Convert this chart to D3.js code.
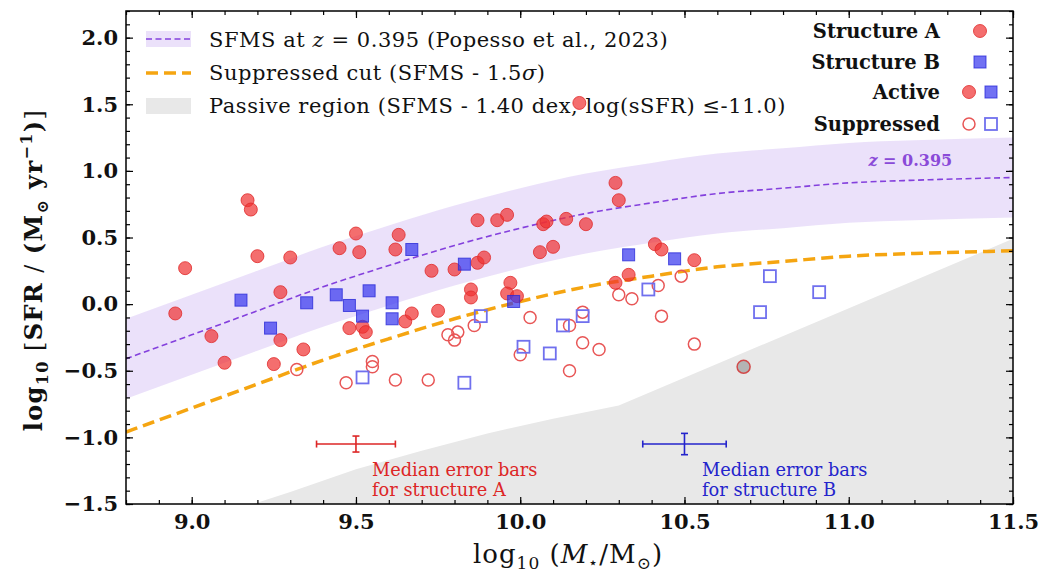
<!DOCTYPE html>
<html>
<head>
<meta charset="utf-8">
<script src="https://cdn.jsdelivr.net/npm/d3@7"></script>
<style>
  body { margin: 0; background: #fff; }
  text { font-family: "DejaVu Serif", "Liberation Serif", serif; }
</style>
</head>
<body>
<svg id="chart" width="1041" height="576"></svg>
<script>
// ---- data ----
// SFMS curve (Popesso et al. 2023, z = 0.395), band edges and suppressed cut
var sfmsMass = [8.8, 9.0, 9.2, 9.4, 9.6, 9.8, 10.0, 10.2, 10.4, 10.6, 10.8, 11.0, 11.2, 11.5];
var sfmsLine = [-0.41, -0.23, -0.05, 0.13, 0.29, 0.44, 0.57, 0.68, 0.76, 0.83, 0.87, 0.91, 0.93, 0.95];
var sfmsUpper = [-0.11, 0.07, 0.25, 0.43, 0.59, 0.74, 0.87, 0.98, 1.06, 1.13, 1.17, 1.21, 1.23, 1.25];
var sfmsLower = [-0.71, -0.53, -0.35, -0.17, -0.01, 0.14, 0.27, 0.38, 0.46, 0.53, 0.57, 0.61, 0.63, 0.65];
var suppressedCut = [-0.96, -0.78, -0.60, -0.42, -0.26, -0.11, 0.02, 0.13, 0.21, 0.28, 0.32, 0.36, 0.38, 0.40];

// passive region upper edge
var passiveMass = [9.15, 9.3, 9.5, 9.7, 9.9, 10.1, 10.3, 11.5];
var passiveTop = [-1.53, -1.41, -1.24, -1.10, -0.97, -0.86, -0.76, 0.49];

// Structure A, active (filled circles)  [log M*, log SFR]
var aActive = [
  [8.95, -0.07], [8.98, 0.27], [9.06, -0.24], [9.10, -0.44], [9.17, 0.78], [9.18, 0.71],
  [9.20, 0.36], [9.25, -0.45], [9.27, 0.09], [9.27, -0.27], [9.30, 0.35], [9.34, -0.34],
  [9.45, 0.42], [9.48, -0.18], [9.50, 0.53], [9.51, 0.39], [9.52, -0.17], [9.53, -0.21],
  [9.62, 0.41], [9.63, 0.52], [9.65, -0.13], [9.67, -0.07], [9.73, 0.25], [9.75, -0.05],
  [9.80, 0.26], [9.85, 0.11], [9.85, 0.05], [9.87, 0.63], [9.87, 0.31], [9.89, 0.35],
  [9.93, 0.63], [9.96, 0.67], [9.97, 0.16], [9.96, 0.08], [9.99, 0.06], [10.06, 0.39],
  [10.07, 0.60], [10.08, 0.62], [10.10, 0.43], [10.14, 0.64], [10.20, 0.60], [10.18, 1.51],
  [10.29, 0.91], [10.30, 0.78], [10.29, 0.16], [10.33, 0.22], [10.41, 0.45], [10.43, 0.41],
  [10.53, 0.33]
];
// Structure A, point lying in the passive region
var aPassive = [[10.68, -0.47]];
// Structure A, suppressed (open circles)
var aSuppressed = [
  [9.32, -0.49], [9.47, -0.59], [9.55, -0.43], [9.55, -0.47], [9.62, -0.57], [9.72, -0.57],
  [9.78, -0.23], [9.80, -0.27], [9.81, -0.21], [9.86, -0.16], [10.03, -0.10], [10.00, -0.38],
  [10.15, -0.50], [10.15, -0.16], [10.19, -0.06], [10.19, -0.29], [10.24, -0.34], [10.30, 0.07],
  [10.34, 0.04], [10.42, 0.14], [10.43, -0.09], [10.49, 0.21], [10.53, -0.30]
];
// Structure B, active (filled squares)
var bActive = [
  [9.15, 0.03], [9.24, -0.18], [9.35, 0.01], [9.44, 0.07], [9.48, -0.01], [9.52, -0.09],
  [9.54, 0.10], [9.61, 0.01], [9.61, -0.11], [9.67, 0.41], [9.83, 0.30], [9.98, 0.02],
  [10.33, 0.37], [10.47, 0.34]
];
// Structure B, suppressed (open squares)
var bSuppressed = [
  [9.52, -0.55], [9.83, -0.59], [9.88, -0.09], [10.01, -0.32], [10.09, -0.37], [10.13, -0.16],
  [10.19, -0.09], [10.39, 0.11], [10.76, 0.21], [10.73, -0.06], [10.91, 0.09]
];

// median error bars: A then B
var errMass = [9.50, 10.50];
var errSfr = [-1.05, -1.05];
var errDx = [0.12, 0.127];
var errDy = [0.06, 0.08];
var errColor = ["#dd2626", "#2424cc"];

var xTicks = [9.0, 9.5, 10.0, 10.5, 11.0, 11.5];
var yTicks = [-1.5, -1.0, -0.5, 0.0, 0.5, 1.0, 1.5, 2.0];

// ---- layout ----
var margin = { top: 11, right: 28, bottom: 72, left: 126 };
var width = 1041 - margin.left - margin.right;
var height = 576 - margin.top - margin.bottom;

var svg = d3.select("#chart");
var g = svg.append("g").attr("transform", "translate(" + margin.left + "," + margin.top + ")");

var x = d3.scaleLinear().domain([8.8, 11.5]).range([0, width]);
var y = d3.scaleLinear().domain([-1.5, 2.2]).range([height, 0]);

g.append("clipPath").attr("id", "plotclip")
  .append("rect").attr("width", width).attr("height", height);

var plot = g.append("g").attr("clip-path", "url(#plotclip)");

// passive region
plot.append("path")
  .datum(passiveMass)
  .attr("d", d3.area()
    .x(function (d) { return x(d); })
    .y0(y(-1.6))
    .y1(function (d, i) { return y(passiveTop[i]); }))
  .style("fill", "#e8e8e8");

// SFMS band
plot.append("path")
  .datum(sfmsMass)
  .attr("d", d3.area()
    .x(function (d) { return x(d); })
    .y0(function (d, i) { return y(sfmsLower[i]); })
    .y1(function (d, i) { return y(sfmsUpper[i]); })
    .curve(d3.curveMonotoneX))
  .style("fill", "#9a6ae6")
  .style("fill-opacity", 0.2);

// suppressed cut
plot.append("path")
  .datum(sfmsMass)
  .attr("d", d3.line()
    .x(function (d) { return x(d); })
    .y(function (d, i) { return y(suppressedCut[i]); })
    .curve(d3.curveMonotoneX))
  .style("fill", "none")
  .style("stroke", "#f5a511")
  .style("stroke-width", 3.5)
  .style("stroke-dasharray", "12,6");

// SFMS line
plot.append("path")
  .datum(sfmsMass)
  .attr("d", d3.line()
    .x(function (d) { return x(d); })
    .y(function (d, i) { return y(sfmsLine[i]); })
    .curve(d3.curveMonotoneX))
  .style("fill", "none")
  .style("stroke", "#8440dd")
  .style("stroke-width", 1.6)
  .style("stroke-dasharray", "6,3.5");

// z label on the curve
var zlab = g.append("text")
  .attr("x", x(11.06))
  .attr("y", y(1.04))
  .attr("font-size", "16px")
  .attr("font-weight", "bold")
  .style("fill", "#8a4ad8");
zlab.append("tspan").attr("font-style", "italic").text("z");
zlab.append("tspan").text(" = 0.395");

// markers
function filledCircle(sel) {
  sel.attr("r", 6.5)
    .style("fill", "#f03030").style("fill-opacity", 0.7)
    .style("stroke", "#e02a2a").style("stroke-opacity", 0.8).style("stroke-width", 1);
}
function openCircle(sel) {
  sel.attr("r", 6)
    .style("fill", "none")
    .style("stroke", "#e85656").style("stroke-width", 1.5);
}
function filledSquare(sel) {
  sel.attr("width", 12).attr("height", 12)
    .style("fill", "#3434ee").style("fill-opacity", 0.7)
    .style("stroke", "#2a2ad8").style("stroke-opacity", 0.8).style("stroke-width", 1);
}
function openSquare(sel) {
  sel.attr("width", 12).attr("height", 12)
    .style("fill", "none")
    .style("stroke", "#7070ee").style("stroke-width", 1.8);
}

plot.selectAll("circle.aopen").data(aSuppressed).enter().append("circle")
  .attr("class", "aopen")
  .attr("cx", function (d) { return x(d[0]); })
  .attr("cy", function (d) { return y(d[1]); })
  .call(openCircle);

plot.selectAll("rect.bopen").data(bSuppressed).enter().append("rect")
  .attr("class", "bopen")
  .attr("x", function (d) { return x(d[0]) - 6; })
  .attr("y", function (d) { return y(d[1]) - 6; })
  .call(openSquare);

plot.selectAll("circle.afill").data(aActive).enter().append("circle")
  .attr("class", "afill")
  .attr("cx", function (d) { return x(d[0]); })
  .attr("cy", function (d) { return y(d[1]); })
  .call(filledCircle);

plot.selectAll("circle.apass").data(aPassive).enter().append("circle")
  .attr("class", "apass")
  .attr("cx", function (d) { return x(d[0]); })
  .attr("cy", function (d) { return y(d[1]); })
  .attr("r", 6.5)
  .style("fill", "#b4b4b4")
  .style("stroke", "#d24a4a").style("stroke-width", 1.5);

plot.selectAll("rect.bfill").data(bActive).enter().append("rect")
  .attr("class", "bfill")
  .attr("x", function (d) { return x(d[0]) - 6; })
  .attr("y", function (d) { return y(d[1]) - 6; })
  .call(filledSquare);

// median error bars
errMass.forEach(function (m, i) {
  var eb = plot.append("g").style("stroke", errColor[i]).style("stroke-width", 1.6);
  var cx = x(m), cy = y(errSfr[i]);
  var x0 = x(m - errDx[i]), x1 = x(m + errDx[i]);
  var y0 = y(errSfr[i] - errDy[i]), y1 = y(errSfr[i] + errDy[i]);
  eb.append("line").attr("x1", x0).attr("x2", x1).attr("y1", cy).attr("y2", cy);
  eb.append("line").attr("x1", cx).attr("x2", cx).attr("y1", y0).attr("y2", y1);
  eb.append("line").attr("x1", x0).attr("x2", x0).attr("y1", cy - 3.5).attr("y2", cy + 3.5);
  eb.append("line").attr("x1", x1).attr("x2", x1).attr("y1", cy - 3.5).attr("y2", cy + 3.5);
  eb.append("line").attr("x1", cx - 3.5).attr("x2", cx + 3.5).attr("y1", y0).attr("y2", y0);
  eb.append("line").attr("x1", cx - 3.5).attr("x2", cx + 3.5).attr("y1", y1).attr("y2", y1);
});

var errText = [["Median error bars", "for structure A"], ["Median error bars", "for structure B"]];
var errTextX = [372, 702];
errText.forEach(function (lines, i) {
  lines.forEach(function (t, j) {
    svg.append("text")
      .attr("x", errTextX[i])
      .attr("y", 476 + j * 20)
      .attr("font-size", "17.8px")
      .style("fill", errColor[i])
      .text(t);
  });
});

// ---- axes (ticks inward on all four sides) ----
var minorX = d3.range(88, 116).map(function (d) { return d / 10; });
var minorY = d3.range(-15, 23).map(function (d) { return d / 10; });
var fmt = d3.format(".1f");

function styleAxis(ax) {
  ax.select(".domain").remove();
  ax.selectAll("line").style("stroke", "#000").style("stroke-width", 1.2);
  ax.selectAll("text")
    .attr("font-size", "21px")
    .attr("font-weight", "bold")
    .style("font-family", "'DejaVu Serif', serif")
    .style("fill", "#111");
}

g.append("g").attr("transform", "translate(0," + height + ")")
  .call(d3.axisBottom(x).tickValues(minorX).tickSizeInner(-4).tickSizeOuter(0).tickFormat(""))
  .call(styleAxis);
g.append("g").attr("transform", "translate(0," + height + ")")
  .call(d3.axisBottom(x).tickValues(xTicks).tickSizeInner(-7).tickSizeOuter(0).tickPadding(10).tickFormat(fmt))
  .call(styleAxis);
g.append("g")
  .call(d3.axisTop(x).tickValues(minorX).tickSizeInner(-4).tickSizeOuter(0).tickFormat(""))
  .call(styleAxis);
g.append("g")
  .call(d3.axisTop(x).tickValues(xTicks).tickSizeInner(-7).tickSizeOuter(0).tickFormat(""))
  .call(styleAxis);

g.append("g")
  .call(d3.axisLeft(y).tickValues(minorY).tickSizeInner(-4).tickSizeOuter(0).tickFormat(""))
  .call(styleAxis);
g.append("g")
  .call(d3.axisLeft(y).tickValues(yTicks).tickSizeInner(-7).tickSizeOuter(0).tickPadding(8).tickFormat(fmt))
  .call(styleAxis);
g.append("g").attr("transform", "translate(" + width + ",0)")
  .call(d3.axisRight(y).tickValues(minorY).tickSizeInner(-4).tickSizeOuter(0).tickFormat(""))
  .call(styleAxis);
g.append("g").attr("transform", "translate(" + width + ",0)")
  .call(d3.axisRight(y).tickValues(yTicks).tickSizeInner(-7).tickSizeOuter(0).tickFormat(""))
  .call(styleAxis);

g.append("rect")
  .attr("width", width).attr("height", height)
  .style("fill", "none").style("stroke", "#000").style("stroke-width", 1.5);

// axis labels
var xLabel = svg.append("text")
  .attr("x", 568)
  .attr("y", 563)
  .attr("text-anchor", "middle")
  .attr("font-size", "26px")
  .style("letter-spacing", "1px")
  .style("fill", "#111");
xLabel.append("tspan").text("log");
xLabel.append("tspan").attr("font-size", "17px").attr("dy", 6).text("10");
xLabel.append("tspan").attr("dy", -6).text(" (");
xLabel.append("tspan").attr("font-style", "italic").text("M");
xLabel.append("tspan").attr("font-size", "16px").attr("dy", 5).text("⋆");
xLabel.append("tspan").attr("dy", -5).text("/M");
xLabel.append("tspan").attr("font-size", "17px").attr("dy", 6).text("⊙");
xLabel.append("tspan").attr("dy", -6).text(")");

var yLabel = svg.append("text")
  .attr("transform", "translate(42,270) rotate(-90)")
  .attr("text-anchor", "middle")
  .attr("font-size", "24px")
  .attr("font-weight", "bold")
  .style("letter-spacing", "1.4px")
  .style("fill", "#111");
yLabel.append("tspan").text("log");
yLabel.append("tspan").attr("font-size", "16px").attr("dy", 6).text("10");
yLabel.append("tspan").attr("dy", -6).attr("font-weight", "normal").text(" [");
yLabel.append("tspan").text("SFR");
yLabel.append("tspan").attr("font-weight", "normal").text(" / ");
yLabel.append("tspan").text("(M");
yLabel.append("tspan").attr("font-size", "16px").attr("dy", 6).text("⊙");
yLabel.append("tspan").attr("dy", -6).text(" yr");
yLabel.append("tspan").attr("font-size", "16px").attr("dy", -10).text("−1");
yLabel.append("tspan").attr("dy", 10).text(")");
yLabel.append("tspan").attr("font-weight", "normal").text("]");

// ---- legend, top left ----
var leg = svg.append("g");
leg.append("rect").attr("x", 146).attr("y", 31).attr("width", 45).attr("height", 16)
  .style("fill", "#9a6ae6").style("fill-opacity", 0.2);
leg.append("line").attr("x1", 146).attr("x2", 191).attr("y1", 39).attr("y2", 39)
  .style("stroke", "#8440dd").style("stroke-width", 1.6).style("stroke-dasharray", "6,3.5");
leg.append("line").attr("x1", 146).attr("x2", 191).attr("y1", 73).attr("y2", 73)
  .style("stroke", "#f5a511").style("stroke-width", 3.5).style("stroke-dasharray", "12,6");
leg.append("rect").attr("x", 146).attr("y", 98).attr("width", 45).attr("height", 16)
  .style("fill", "#e8e8e8");

function legText(yy) {
  return leg.append("text").attr("x", 209).attr("y", yy)
    .attr("font-size", "21px")
    .style("letter-spacing", "0.55px")
    .style("fill", "#111");
}
var l1 = legText(47);
l1.append("tspan").text("SFMS at ");
l1.append("tspan").attr("font-style", "italic").text("z");
l1.append("tspan").text(" = 0.395 (Popesso et al., 2023)");
var l2 = legText(80);
l2.append("tspan").text("Suppressed cut (SFMS - 1.5");
l2.append("tspan").attr("font-style", "italic").text("σ");
l2.append("tspan").text(")");
legText(113).text("Passive region (SFMS - 1.40 dex, log(sSFR) ≤-11.0)");

// ---- legend, top right ----
var legR = svg.append("g");
var legRLabels = ["Structure A", "Structure B", "Active", "Suppressed"];
var legRY = [31, 62, 92, 124];
legRLabels.forEach(function (t, i) {
  legR.append("text")
    .attr("x", 940).attr("y", legRY[i] + 7)
    .attr("text-anchor", "end")
    .attr("font-size", "19.5px")
    .attr("font-weight", "bold")
    .style("fill", "#111")
    .text(t);
});
legR.append("circle").attr("cx", 980).attr("cy", legRY[0]).call(filledCircle);
legR.append("rect").attr("x", 974).attr("y", legRY[1] - 6).call(filledSquare);
legR.append("circle").attr("cx", 969).attr("cy", legRY[2]).call(filledCircle);
legR.append("rect").attr("x", 985).attr("y", legRY[2] - 6).call(filledSquare);
legR.append("circle").attr("cx", 969).attr("cy", legRY[3]).call(openCircle);
legR.append("rect").attr("x", 985).attr("y", legRY[3] - 6).call(openSquare);
</script>
</body>
</html>
